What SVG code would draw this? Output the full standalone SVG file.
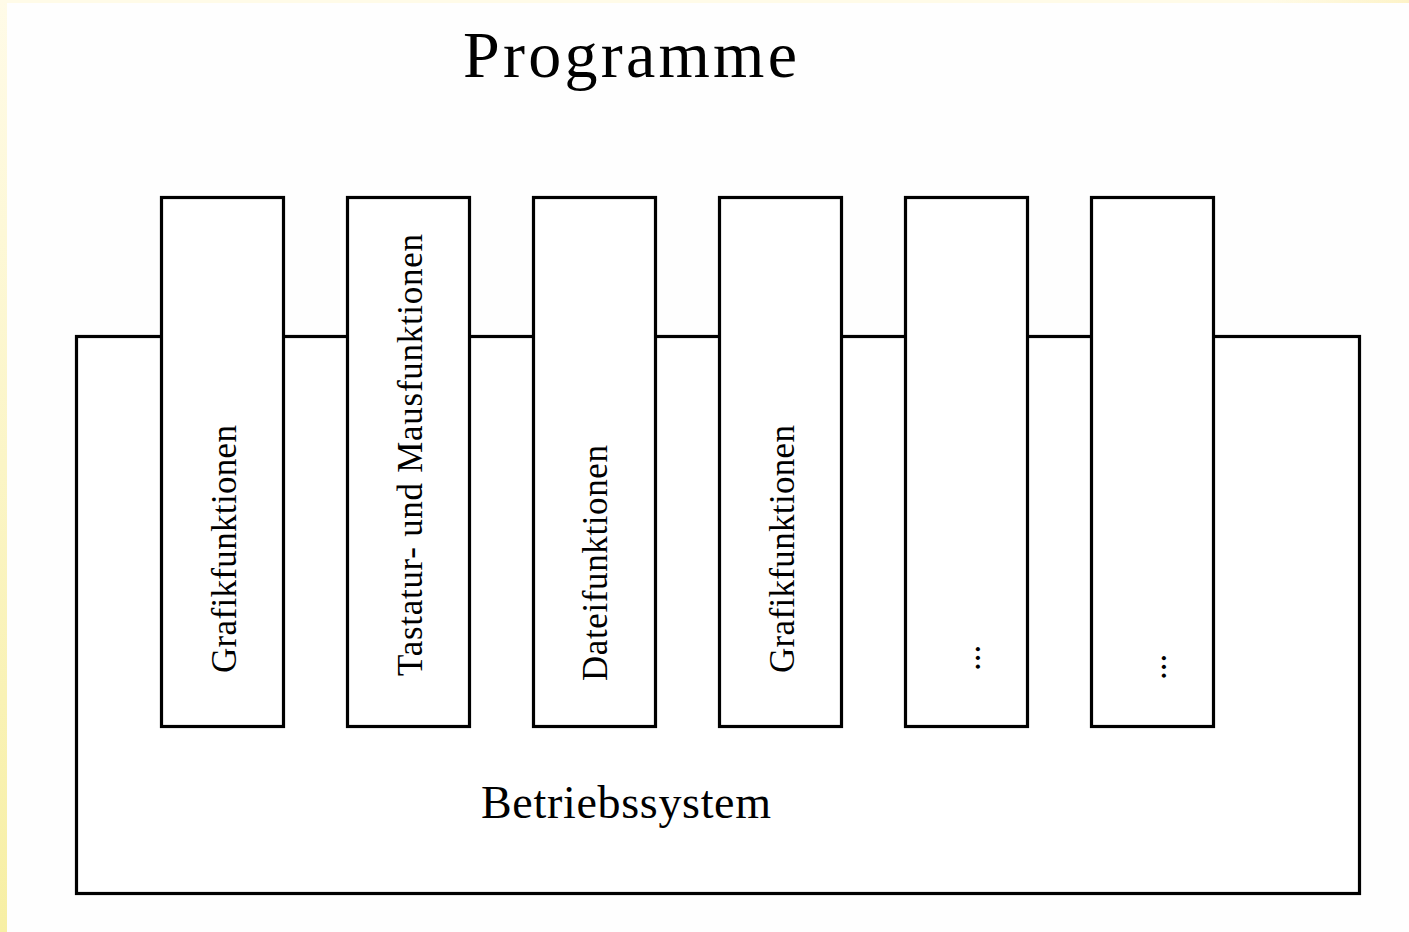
<svg xmlns="http://www.w3.org/2000/svg" width="1409" height="932" viewBox="0 0 1409 932">
  <defs>
    <linearGradient id="leftStrip" x1="0" y1="0" x2="0" y2="1">
      <stop offset="0" stop-color="#fffbe8"/>
      <stop offset="1" stop-color="#f7efa4"/>
    </linearGradient>
    <linearGradient id="topStrip" x1="0" y1="0" x2="1" y2="0">
      <stop offset="0" stop-color="#fffbe8"/>
      <stop offset="0.9" stop-color="#fffbe8"/>
      <stop offset="1" stop-color="#fdf3c8"/>
    </linearGradient>
    <style>
      .box { fill: #ffffff; stroke: #000000; stroke-width: 3.2; }
      .lbl { font-family: "Liberation Serif", "Times New Roman", serif; fill: #000000; }
      .v { font-size: 35px; }
    </style>
  </defs>
  <rect x="0" y="0" width="1409" height="932" fill="#fefefe"/>
  <rect x="0" y="0" width="1409" height="3" fill="url(#topStrip)"/>
  <rect x="0" y="0" width="7" height="932" fill="url(#leftStrip)"/>

  <text class="lbl" x="463" y="77" font-size="66" textLength="334" lengthAdjust="spacing">Programme</text>

  <g id="betriebssystem">
    <rect class="box" x="76.5" y="336.5" width="1283" height="557"/>
    <text class="lbl" x="481" y="818" font-size="46" textLength="290" lengthAdjust="spacing">Betriebssystem</text>
  </g>

  <g id="grafikfunktionen1">
    <rect class="box" x="161.5" y="197.5" width="122" height="529"/>
    <text class="lbl v" transform="translate(236,673) rotate(-90)" textLength="248" lengthAdjust="spacing">Grafikfunktionen</text>
  </g>
  <g id="tastatur-maus">
    <rect class="box" x="347.5" y="197.5" width="122" height="529"/>
    <text class="lbl v" transform="translate(422,676) rotate(-90)" textLength="442" lengthAdjust="spacing">Tastatur- und Mausfunktionen</text>
  </g>
  <g id="dateifunktionen">
    <rect class="box" x="533.5" y="197.5" width="122" height="529"/>
    <text class="lbl v" transform="translate(607,681) rotate(-90)" textLength="236" lengthAdjust="spacing">Dateifunktionen</text>
  </g>
  <g id="grafikfunktionen2">
    <rect class="box" x="719.5" y="197.5" width="122" height="529"/>
    <text class="lbl v" transform="translate(794,673) rotate(-90)" textLength="248" lengthAdjust="spacing">Grafikfunktionen</text>
  </g>
  <g id="weitere1">
    <rect class="box" x="905.5" y="197.5" width="122" height="529"/>
    <text class="lbl v" transform="translate(980,671) rotate(-90)">...</text>
  </g>
  <g id="weitere2">
    <rect class="box" x="1091.5" y="197.5" width="122" height="529"/>
    <text class="lbl v" transform="translate(1166,680) rotate(-90)">...</text>
  </g>
</svg>
